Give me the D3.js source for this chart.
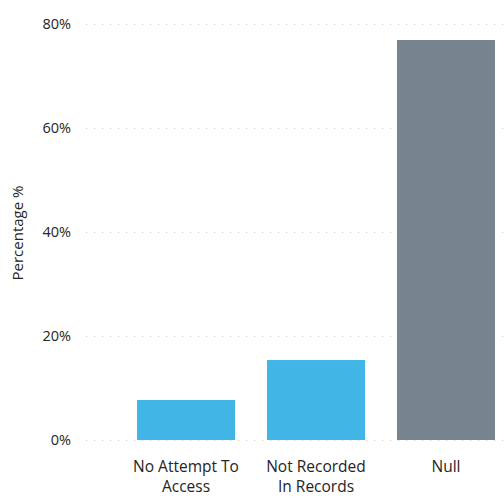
<!DOCTYPE html>
<html>
<head>
<meta charset="utf-8">
<script src="https://cdn.jsdelivr.net/npm/d3@7"></script>
<style>
  html, body { margin: 0; padding: 0; background: #fff; }
  svg { display: block; font-family: "Open Sans", "Noto Sans", sans-serif; }
</style>
</head>
<body>
<svg id="chart" width="504" height="502"></svg>
<script>
// Share of records by reason
const categories = [["No Attempt To", "Access"], ["Not Recorded", "In Records"], ["Null"]];
const values = [7.69, 15.38, 76.92];
const barColors = ["#41b6e6", "#41b6e6", "#768490"];
const tickValues = [0, 20, 40, 60, 80];

const svg = d3.select("#chart");

const y = d3.scaleLinear().domain([0, 80]).range([440, 24]);
const x = d3.scaleBand()
  .domain(categories.map((d, i) => i))
  .range([121, 511])
  .paddingInner(0.246)
  .paddingOuter(0.123);

// dotted gridlines
svg.append("g")
  .selectAll("line")
  .data(tickValues)
  .join("line")
  .attr("x1", 86).attr("x2", 504)
  .attr("y1", d => y(d) + 0.5).attr("y2", d => y(d) + 0.5)
  .attr("stroke", "#c8c8c8")
  .attr("stroke-width", 1)
  .attr("stroke-dasharray", "1,7");

// y axis tick labels
const yAxis = d3.axisLeft(y).tickValues(tickValues).tickFormat(d => d + "%").tickSize(0).tickPadding(0);
const gy = svg.append("g").attr("transform", "translate(71,0)").call(yAxis);
gy.select(".domain").remove();
gy.selectAll("text")
  .attr("fill", "#252423")
  .style("font-size", "14.5px")
  .style("font-family", "\"Open Sans\", sans-serif");

// y axis title
svg.append("text")
  .attr("transform", "translate(23,233) rotate(-90)")
  .attr("text-anchor", "middle")
  .attr("fill", "#252423")
  .style("font-size", "15px")
  .text("Percentage %");

// bars
svg.append("g")
  .selectAll("rect")
  .data(values)
  .join("rect")
  .attr("x", (d, i) => x(i))
  .attr("width", x.bandwidth())
  .attr("y", d => y(d))
  .attr("height", d => y(0) - y(d))
  .attr("fill", (d, i) => barColors[i]);

// category labels
const gx = svg.append("g");
categories.forEach((lines, i) => {
  const t = gx.append("text")
    .attr("text-anchor", "middle")
    .attr("fill", "#252423")
    .style("font-size", "15.5px")
    .attr("x", x(i) + x.bandwidth() / 2)
    .attr("y", 472);
  lines.forEach((ln, j) => {
    t.append("tspan")
      .attr("x", x(i) + x.bandwidth() / 2)
      .attr("dy", j === 0 ? 0 : 20)
      .text(ln);
  });
});
</script>
</body>
</html>
